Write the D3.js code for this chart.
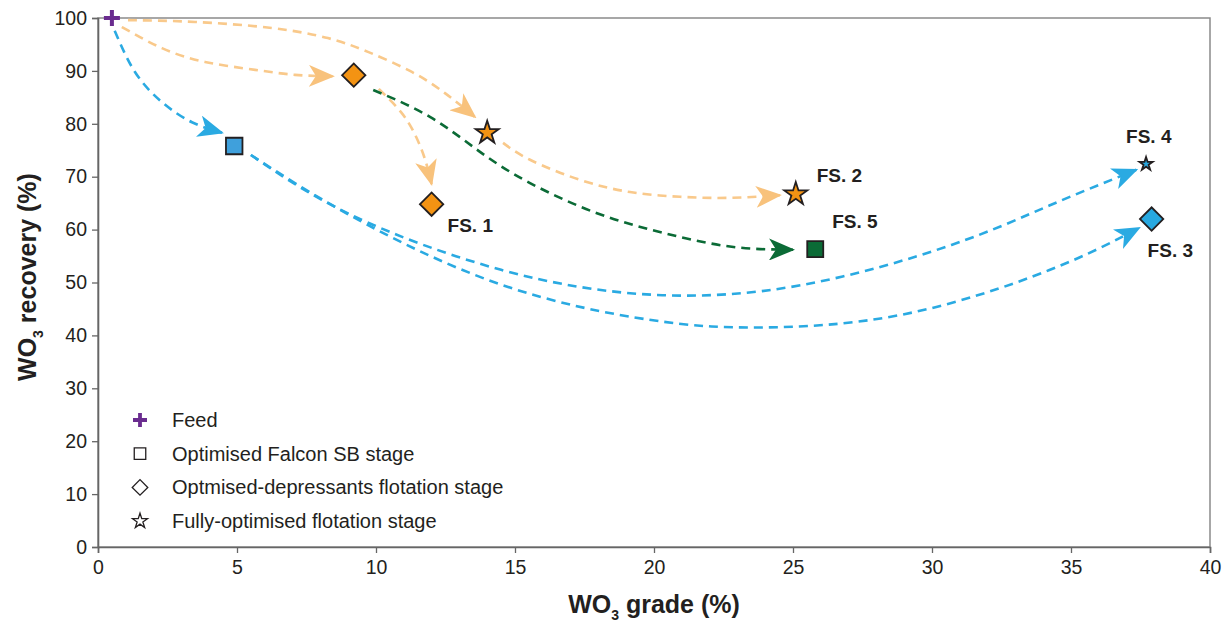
<!DOCTYPE html>
<html>
<head>
<meta charset="utf-8">
<script src="https://cdn.jsdelivr.net/npm/d3@7"></script>
<style>
  body { margin: 0; background: #fff; }
  svg text { font-family: "Liberation Sans", Arial, sans-serif; fill: #231f20; }
</style>
</head>
<body>
<svg id="chart" width="1228" height="622"></svg>
<script>
// points
var names    = ["Feed", "SB", "D1", "FS. 1", "S1", "FS. 2", "FS. 5", "FS. 4", "FS. 3"];
var grade    = [0.5, 4.9, 9.2, 12.0, 14.0, 25.1, 25.8, 37.7, 37.9];
var recovery = [100, 75.8, 89.2, 64.8, 78.3, 66.7, 56.3, 72.4, 62.0];
var shapes   = ["plus", "square", "diamond", "diamond", "star", "star", "square", "star", "diamond"];
var routes   = ["feed", "falcon", "flot", "flot", "flot", "flot", "combo", "falcon", "falcon"];

var xTicks = [0, 5, 10, 15, 20, 25, 30, 35, 40];
var yTicks = [0, 10, 20, 30, 40, 50, 60, 70, 80, 90, 100];

var legendLabels = ["Feed", "Optimised Falcon SB stage", "Optmised-depressants flotation stage", "Fully-optimised flotation stage"];
var legendShapes = ["plus", "square", "diamond", "star"];

// dashed arrows, waypoints in data units, last point = arrow tip
var feedToSB = [[0.6, 97.6], [1.33, 89.8], [2.3, 84.1], [3.38, 80.3], [4.46, 78.3]];
var feedToD1 = [[0.86, 98.3], [2.3, 94.3], [3.85, 91.7], [5.65, 90.2], [7.09, 89.25], [8.45, 89.0]];
var feedToS1 = [[1.08, 99.6], [3.49, 99.25], [6.26, 98.1], [8.27, 96.2], [9.71, 93.6], [11.29, 89.8], [12.48, 85.8], [13.56, 81.3]];
var d1ToFS1  = [[10.1, 86.6], [10.9, 82.2], [11.4, 78.0], [11.75, 73.5], [12.0, 68.6]];
var d1ToFS5  = [[9.9, 86.4], [11.94, 81.3], [13.74, 74.7], [15.54, 68.8], [17.95, 63.1], [20.32, 59.4], [22.73, 56.8], [25.0, 56.2]];
var s1ToFS2  = [[14.57, 76.4], [15.54, 73.2], [17.34, 69.4], [19.14, 67.1], [20.94, 66.2], [22.73, 66.0], [24.53, 66.5]];
var sbToFS4  = [[5.5, 74.1], [9.1, 62.8], [14.5, 52.4], [19.9, 47.7], [25.3, 49.5], [30.7, 57.1], [34.2, 64.5], [37.35, 71.3]];
var sbToFS3  = [[5.5, 74.1], [9.1, 62.6], [14.5, 49.6], [19.9, 42.9], [23.8, 41.5], [28.9, 43.9], [34.2, 52.3], [37.45, 60.3]];

var arrows = [
  { route: "falcon", pts: feedToSB },
  { route: "flot", pts: feedToD1 },
  { route: "flot", pts: feedToS1 },
  { route: "flot", pts: d1ToFS1 },
  { route: "flot", pts: s1ToFS2 },
  { route: "combo", pts: d1ToFS5 },
  { route: "falcon", pts: sbToFS4 },
  { route: "falcon", pts: sbToFS3 }
];

var lineColor = { falcon: "#2aaae2", flot: "#f9c98b", combo: "#0b6b36" };
var fillColor = { feed: "#6a2c8f", falcon: "#27a8e0", flot: "#f39313", combo: "#0b6b36" };
var sbFill = "#3fa0dc";

var svg = d3.select("#chart");
var margin = { top: 18, right: 18, bottom: 75, left: 98 };
var width = 1228 - margin.left - margin.right;
var height = 622 - margin.top - margin.bottom;

var x = d3.scaleLinear().domain([0, 40]).range([margin.left, margin.left + width]);
var y = d3.scaleLinear().domain([0, 100]).range([margin.top + height, margin.top]);

// arrow heads
var defs = svg.append("defs");
Object.keys(lineColor).forEach(function (k) {
  defs.append("marker")
      .attr("id", "head-" + k)
      .attr("viewBox", "0 0 26 22")
      .attr("refX", 24).attr("refY", 11)
      .attr("markerWidth", 26).attr("markerHeight", 22)
      .attr("markerUnits", "userSpaceOnUse")
      .attr("orient", "auto")
    .append("path")
      .attr("d", "M0,0 L26,11 L0,22 L7,11 Z")
      .attr("fill", k === "flot" ? "#f8c27c" : lineColor[k]);
});

// frame
svg.append("rect")
    .attr("x", margin.left).attr("y", margin.top)
    .attr("width", width).attr("height", height)
    .attr("fill", "none").attr("stroke", "#8a8a8a").attr("stroke-width", 1.5);

var xAxis = svg.append("g")
    .attr("transform", "translate(0," + (margin.top + height) + ")")
    .call(d3.axisBottom(x).tickValues(xTicks).tickSize(6).tickPadding(7));
var yAxis = svg.append("g")
    .attr("transform", "translate(" + margin.left + ",0)")
    .call(d3.axisLeft(y).tickValues(yTicks).tickSize(6).tickPadding(5));
[xAxis, yAxis].forEach(function (a) {
  a.select(".domain").attr("stroke", "#666").attr("stroke-width", 1.6);
  a.selectAll(".tick line").attr("stroke", "#666").attr("stroke-width", 1.3);
  a.selectAll(".tick text")
      .style("font-family", "'Liberation Sans', Arial, sans-serif")
      .style("font-size", "19.5px").attr("fill", "#231f20");
});

// axis titles
var xt = svg.append("text")
    .attr("x", x(20)).attr("y", 613)
    .attr("text-anchor", "middle")
    .style("font-size", "25px").style("font-weight", "bold");
xt.append("tspan").text("WO");
xt.append("tspan").text("3").attr("dy", 7).style("font-size", "14px");
xt.append("tspan").text(" grade (%)").attr("dy", -7);

var yt = svg.append("text")
    .attr("transform", "translate(36,277) rotate(-90)")
    .attr("text-anchor", "middle")
    .style("font-size", "25px").style("font-weight", "bold");
yt.append("tspan").text("WO");
yt.append("tspan").text("3").attr("dy", 7).style("font-size", "14px");
yt.append("tspan").text(" recovery (%)").attr("dy", -7);

// dashed curves
var curve = d3.line()
    .x(function (d) { return x(d[0]); })
    .y(function (d) { return y(d[1]); })
    .curve(d3.curveNatural);

svg.append("g").selectAll("path")
    .data(arrows)
    .enter().append("path")
    .attr("d", function (d) { return curve(d.pts); })
    .attr("fill", "none")
    .attr("stroke", function (d) { return lineColor[d.route]; })
    .attr("stroke-width", 2.6)
    .attr("stroke-dasharray", "9,6")
    .attr("marker-end", function (d) { return "url(#head-" + d.route + ")"; });

// symbol path generator
function symbolPath(shape, s) {
  if (shape === "square") return d3.symbol(d3.symbolSquare, s * s)();
  if (shape === "diamond") return d3.symbol(d3.symbolSquare, s * s)();
  if (shape === "star") return d3.symbol(d3.symbolStar, s)();
  return "M" + (-s) + ",0H" + s + "M0," + (-s) + "V" + s;
}

var points = names.map(function (n, i) {
  return { name: n, gx: grade[i], ry: recovery[i], shape: shapes[i], route: routes[i] };
});

function markerSize(d) {
  if (d.shape === "plus") return 8;
  if (d.shape === "diamond") return 16.5;
  if (d.shape === "square") return d.route === "combo" ? 16 : 16.5;
  if (d.name === "FS. 4") return 55;
  return 165;
}

svg.append("g").selectAll("path")
    .data(points)
    .enter().append("path")
    .attr("transform", function (d) {
      return "translate(" + x(d.gx) + "," + y(d.ry) + ")" + (d.shape === "diamond" ? " rotate(45)" : "");
    })
    .attr("d", function (d) { return symbolPath(d.shape, markerSize(d)); })
    .attr("fill", function (d) {
      if (d.shape === "plus") return "none";
      if (d.name === "SB") return sbFill;
      return fillColor[d.route];
    })
    .attr("stroke", function (d) { return d.shape === "plus" ? fillColor.feed : "#231f20"; })
    .attr("stroke-width", function (d) { return d.shape === "plus" ? 4 : 1.8; })
    .attr("stroke-linejoin", "miter");

// FS labels
var labelOffset = {
  "FS. 1": [16, 28], "FS. 2": [21, -12], "FS. 5": [17, -21],
  "FS. 4": [-20, -21], "FS. 3": [-4, 38]
};
svg.append("g").selectAll("text")
    .data(points.filter(function (d) { return labelOffset[d.name]; }))
    .enter().append("text")
    .attr("x", function (d) { return x(d.gx) + labelOffset[d.name][0]; })
    .attr("y", function (d) { return y(d.ry) + labelOffset[d.name][1]; })
    .style("font-size", "19px").style("font-weight", "bold")
    .text(function (d) { return d.name; });

// legend
var legend = svg.append("g");
legendLabels.forEach(function (lab, i) {
  var yy = 420 + i * 33.7;
  var shape = legendShapes[i];
  legend.append("path")
      .attr("transform", "translate(140," + yy + ")" + (shape === "diamond" ? " rotate(45)" : ""))
      .attr("d", symbolPath(shape, shape === "plus" ? 7 : shape === "star" ? 70 : shape === "diamond" ? 11 : 11.5))
      .attr("fill", "none")
      .attr("stroke", shape === "plus" ? fillColor.feed : "#231f20")
      .attr("stroke-width", shape === "plus" ? 3.8 : 1.3);
  legend.append("text")
      .attr("x", 172).attr("y", yy + 7)
      .style("font-size", "20px")
      .attr("fill", "#333")
      .text(lab);
});
</script>
</body>
</html>
